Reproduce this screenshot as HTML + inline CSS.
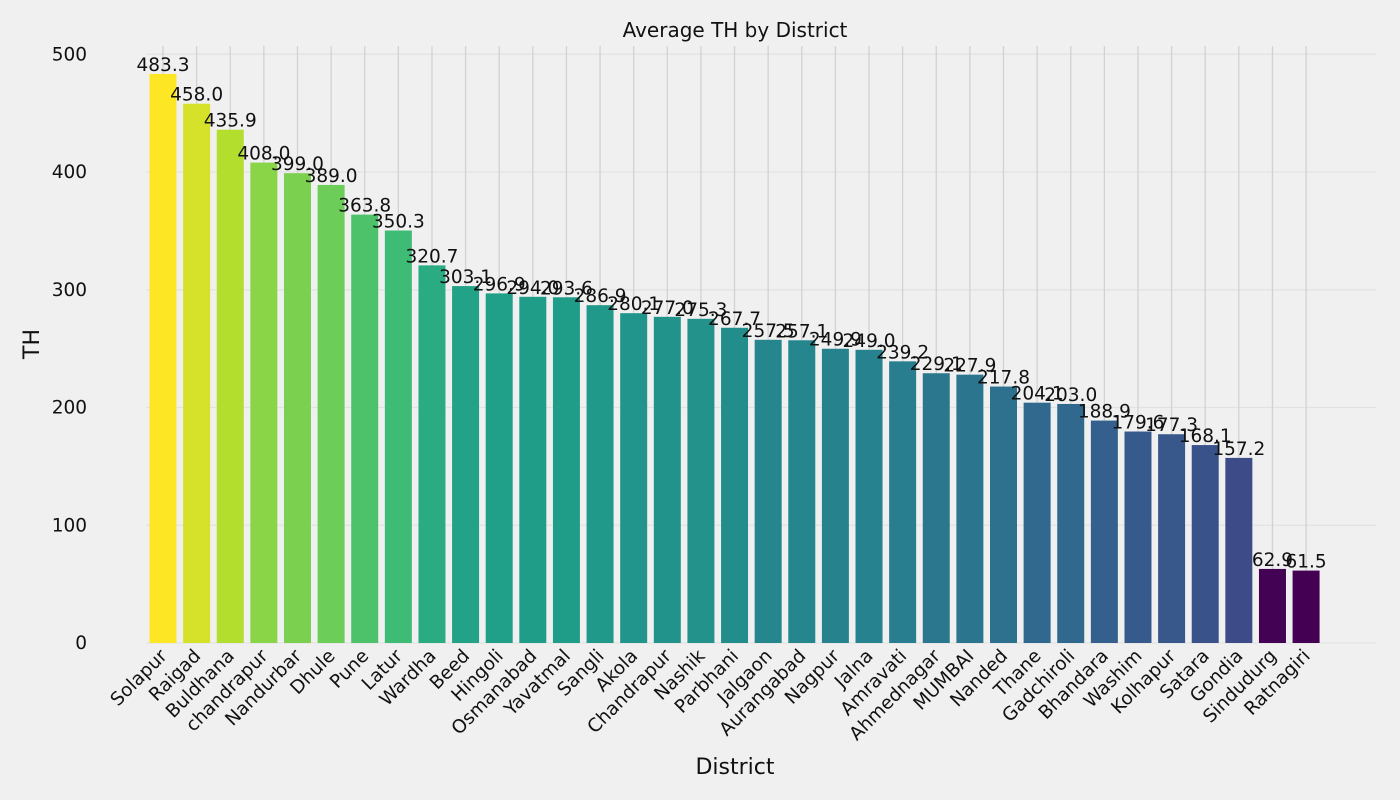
<!DOCTYPE html>
<html><head><meta charset="utf-8">
<style>
html,body{margin:0;padding:0;background:#f0f0f0;}
svg{display:block;font-family:"DejaVu Sans","Liberation Sans",sans-serif;}
</style></head>
<body>
<svg id="chart" width="1400" height="800">
<rect width="1400" height="800" fill="#f0f0f0"/>
<text x="735" y="37" font-size="20" text-anchor="middle" fill="#111">Average TH by District</text>
<text x="735" y="774" font-size="22" text-anchor="middle" fill="#111">District</text>
<text transform="translate(39,344) rotate(-90)" font-size="22" text-anchor="middle" fill="#111">TH</text>
<g id="grid"></g><g id="bars"></g><g id="labels"></g><g id="ticks"></g>
</svg>
<script>
const categories=["Solapur","Raigad","Buldhana","chandrapur","Nandurbar","Dhule","Pune","Latur","Wardha","Beed","Hingoli","Osmanabad","Yavatmal","Sangli","Akola","Chandrapur","Nashik","Parbhani","Jalgaon","Aurangabad","Nagpur","Jalna","Amravati","Ahmednagar","MUMBAI","Nanded","Thane","Gadchiroli","Bhandara","Washim","Kolhapur","Satara","Gondia","Sindudurg","Ratnagiri"];
const values=[483.3,458.0,435.9,408.0,399.0,389.0,363.8,350.3,320.7,303.1,296.9,294.0,293.6,286.9,280.1,277.0,275.3,267.7,257.5,257.1,249.9,249.0,239.2,229.1,227.9,217.8,204.1,203.0,188.9,179.6,177.3,168.1,157.2,62.9,61.5];
const yTicks=[0,100,200,300,400,500];
const NS="http://www.w3.org/2000/svg";
function xPos(i){return 163+i*33.62;}
function yPos(v){return 643-v*1.1775;}
const bw=27;
const vir=[[68,1,84],[72,40,120],[62,74,137],[49,104,142],[38,130,142],[31,158,137],[53,183,121],[109,205,89],[180,222,44],[253,231,37]];
function color(v){const mn=Math.min(...values),mx=Math.max(...values);let t=(v-mn)/(mx-mn)*(vir.length-1);let k=Math.min(Math.floor(t),vir.length-2);let f=t-k;const c=vir[k].map((a,j)=>Math.round(a+(vir[k+1][j]-a)*f));return `rgb(${c})`;}
function mk(tag,attrs,parent){const e=document.createElementNS(NS,tag);for(const k in attrs)e.setAttribute(k,attrs[k]);parent.appendChild(e);return e;}
const grid=document.getElementById('grid'),bars=document.getElementById('bars'),labels=document.getElementById('labels'),ticks=document.getElementById('ticks');
yTicks.forEach(t=>{
 const l=mk('line',{x1:146,x2:1376,y1:yPos(t),y2:yPos(t),stroke:'#e2e2e2','stroke-width':1.2},grid);
 
 
 const tx=mk('text',{x:87,y:yPos(t)+6,'font-size':18.5,'text-anchor':'end',fill:'#111'},ticks);
 tx.textContent=t;
 
 
});
categories.forEach((c,i)=>{
 const x=xPos(i);
 const g=mk('line',{x1:x,x2:x,y1:46,y2:643,stroke:'#d2d2d2','stroke-width':1.3},grid);
 
 
 const r=mk('rect',{x:x-bw/2,y:yPos(values[i]),width:bw,height:yPos(0)-yPos(values[i]),fill:color(values[i])},bars);
 
 
 const v=mk('text',{x:x,y:yPos(values[i])-3,'font-size':18.5,'text-anchor':'middle',fill:'#111'},labels);
 v.textContent=values[i].toFixed(1);
 
 
 const t=mk('text',{transform:`translate(${x+5},${657}) rotate(-45)`,'font-size':18.5,'text-anchor':'end',fill:'#111'},ticks);
 t.textContent=c;
 
 
});
</script>
</body></html>
